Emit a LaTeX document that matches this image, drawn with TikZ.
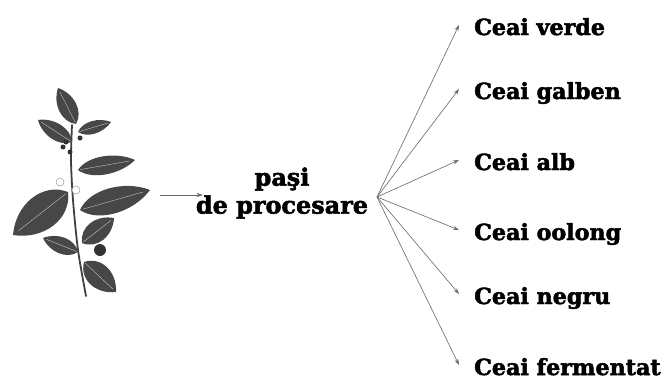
\documentclass[tikz,border=0pt]{standalone}
\usepackage{fontspec}
\usepackage{tikz}
\usetikzlibrary{positioning, arrows.meta, calc}
\newfontfamily\teafont{DejaVu Serif Bold}[FakeBold=2.2]
\colorlet{leafgray}{black!72}
\colorlet{fangray}{black!60}
\tikzset{
    leaf/.pic = {
    \fill[leafgray] (0,0) .. controls (0.2,0.62) and (0.7,0.6) .. (1,0)
        .. controls (0.7,-0.6) and (0.2,-0.62) .. (0,0);
    \draw[white!55!gray, line width=0.4pt] (0.04,0) -- (0.9,0);
    },
    stem/.style={draw=black!75, line width=1.8pt, line cap=round},
    bud/.style={fill=black!80},
    blossom/.style={fill=white, draw=black!40, line width=0.5pt},
    tea/.style={font=\teafont\fontsize{22.3}{22}\selectfont, inner sep=0pt, anchor=base west},
    steps/.style={font=\teafont\fontsize{24}{28}\selectfont, align=center, inner sep=0pt},
    fan/.style={draw=fangray, line width=0.6pt, -{Stealth[length=6bp, width=4bp]}},
}
\begin{document}
\begin{tikzpicture}[x=1bp, y=1bp]
    \useasboundingbox (0,0) rectangle (672,380);

    % tea branch
    \draw[stem] plot[smooth] coordinates {(72,255) (71,220) (73,180) (78,130) (86,84)};
    \foreach \bx/\by/\tx/\ty/\w in {76/256/58/292/20, 72/238/38/260/18, 78/248/111/258/14,
        78/210/135/220/20, 80/170/150/190/28, 68/188/13/145/38,
        82/137/114/162/23, 78/128/43/142/18, 84/118/116/88/26} {
      \pgfmathsetmacro{\ang}{atan2(\ty-\by, \tx-\bx)}
      \pgfmathsetmacro{\len}{veclen(\tx-\bx, \ty-\by)}
      \pic[rotate=\ang, xscale=\len, yscale=\w] at (\bx,\by) {leaf};
    }
    \fill[bud] (100,130) circle (6);
    \foreach \px/\py in {63/233, 70/228, 80/242, 66/238}
      \fill[bud] (\px,\py) circle (2.5);
    \foreach \px/\py in {60/198, 76/190}
      \filldraw[blossom] (\px,\py) circle (4);
    \coordinate (plant) at (160,185);

    % processing
    \node[steps] (steps) at (282,187) {paşi\\de procesare};
    \coordinate (fork) at (377,183);
    \draw (plant) edge[fan] ($(steps.west)+(7,-2)$);

    % kinds of tea
    \node[tea] (verde) at (474,345) {Ceai verde};
    \node[tea] (galben) at (474,281) {Ceai galben};
    \node[tea] (alb) at (474,210) {Ceai alb};
    \node[tea] (oolong) at (474,140) {Ceai oolong};
    \node[tea] (negru) at (474,76) {Ceai negru};
    \node[tea] (fermentat) at (474,5) {Ceai fermentat};

    \foreach \t in {verde, galben, alb, oolong, negru, fermentat}
      \draw (fork) edge[fan] ($(\t.base west)+(-15,10)$);
  \end{tikzpicture}
\end{document}
